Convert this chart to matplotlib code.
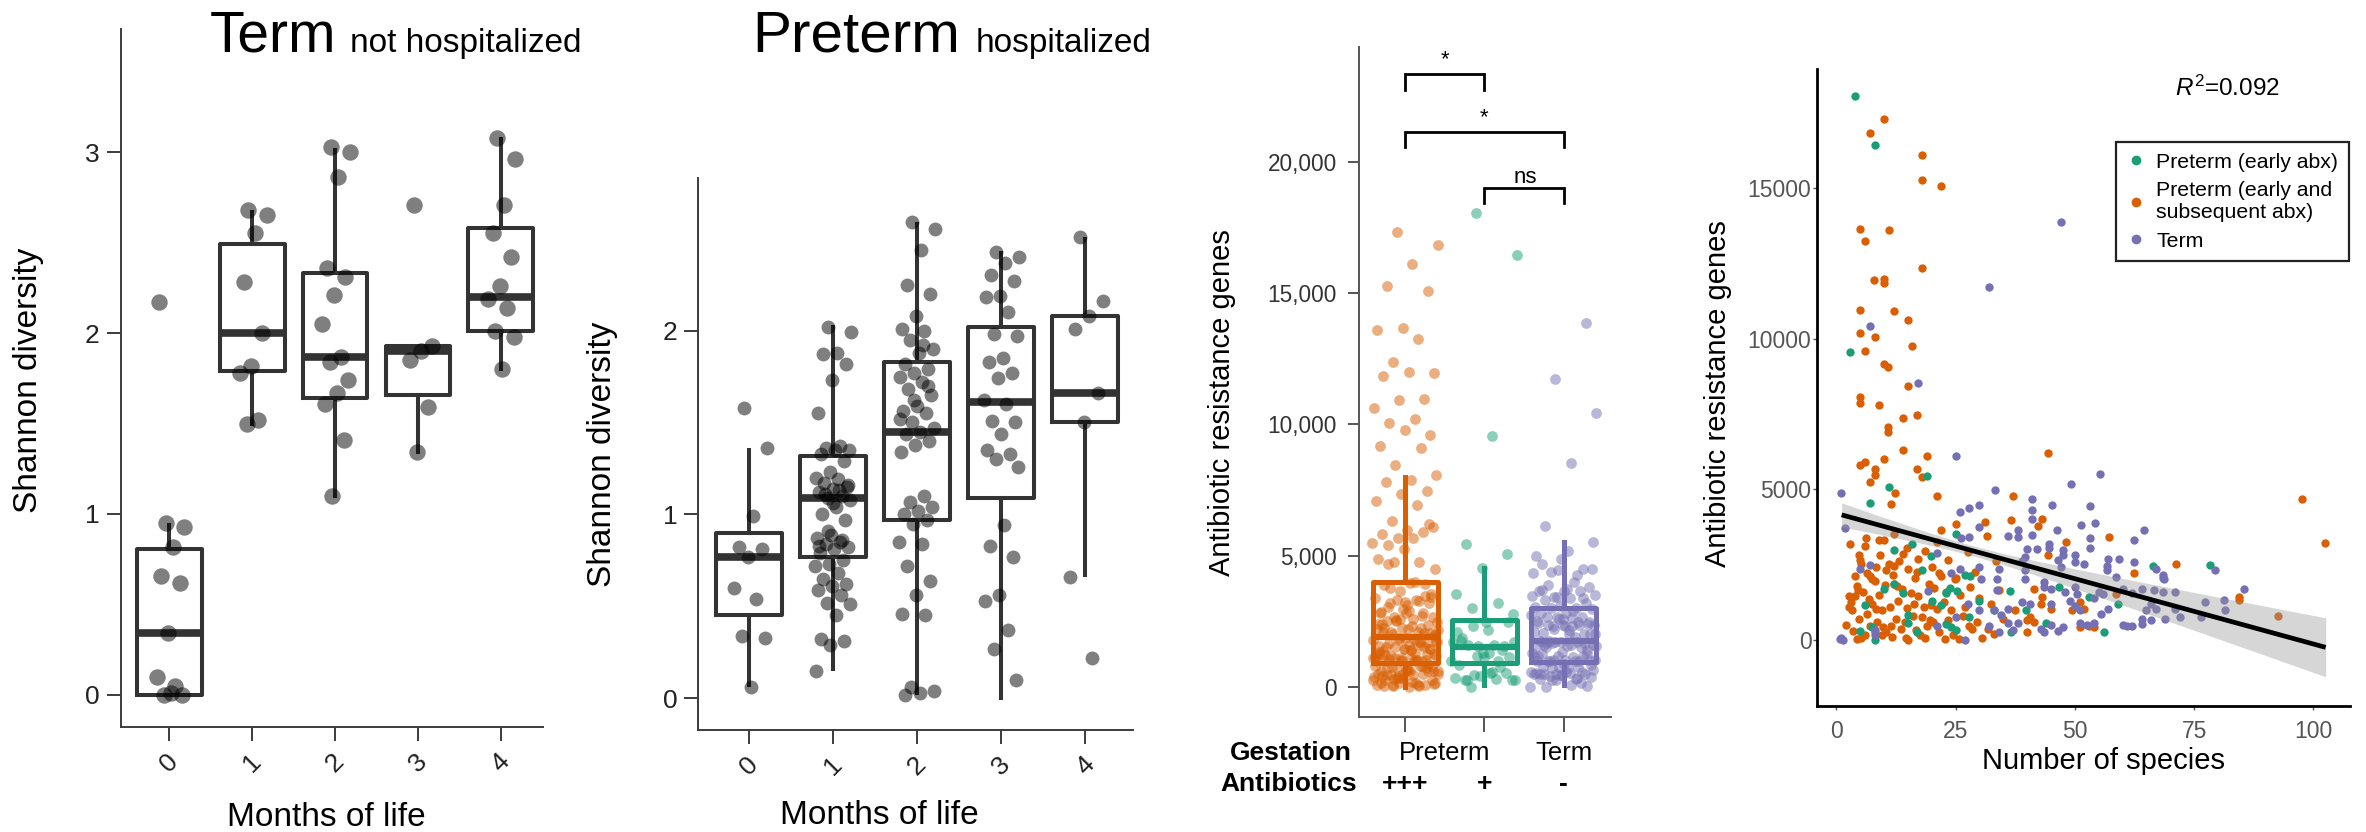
import numpy as np
import matplotlib
matplotlib.use("Agg")
import matplotlib.pyplot as plt
import matplotlib.transforms as mtrans
from matplotlib.lines import Line2D

plt.rcParams['font.family'] = ['Liberation Sans', 'DejaVu Sans']
plt.rcParams['mathtext.fontset'] = 'custom'
plt.rcParams['mathtext.rm'] = 'Liberation Sans'
plt.rcParams['mathtext.it'] = 'Liberation Sans:italic'

# ---------------- Shannon diversity by month: term infants ----------------
months = [0, 1, 2, 3, 4]
month_labels = ['0', '1', '2', '3', '4']

term_m0 = [0.95, 0.93, 0.82, 0.66, 0.62, 0.34, 0.10, 0.05, 0.0, 0.0, 0.01, 2.17]
term_m1 = [2.68, 2.65, 2.55, 2.28, 2.00, 1.82, 1.78, 1.52, 1.50]
term_m2 = [3.03, 3.00, 2.86, 2.36, 2.31, 2.21, 2.05, 1.87, 1.84, 1.74, 1.67, 1.61, 1.41, 1.10]
term_m3 = [2.71, 1.93, 1.90, 1.85, 1.59, 1.34]
term_m4 = [3.08, 2.96, 2.71, 2.55, 2.42, 2.26, 2.19, 2.14, 2.01, 1.98, 1.80]

term_q1 = [0.00, 1.79, 1.64, 1.66, 2.01]
term_med = [0.34, 2.00, 1.87, 1.90, 2.20]
term_q3 = [0.805, 2.49, 2.33, 1.93, 2.58]
term_lo = [0.00, 1.50, 1.10, 1.34, 1.80]
term_hi = [0.94, 2.67, 3.01, 1.93, 3.07]

# ---------------- Shannon diversity by month: preterm infants ----------------
pre_m0 = [1.58, 1.36, 0.99, 0.82, 0.81, 0.77, 0.60, 0.54, 0.34, 0.33, 0.06]
pre_m1 = [2.02, 1.99, 1.88, 1.87, 1.82, 1.73, 1.55, 1.37, 1.36, 1.35, 1.35, 1.33, 1.29,
          1.23, 1.20, 1.19, 1.17, 1.15, 1.14, 1.12, 1.10, 1.09, 1.08, 1.04, 1.00, 0.97,
          0.89, 0.87, 0.85, 0.84, 0.82, 0.81, 0.79, 0.75, 0.73, 0.72, 0.68, 0.65, 0.62,
          0.61, 0.59, 0.56, 0.52, 0.51, 0.45, 0.32, 0.31, 0.29, 0.15, 1.13, 1.11, 1.16,
          1.06, 0.83, 0.86, 0.91]
pre_m2 = [2.59, 2.55, 2.44, 2.25, 2.20, 2.08, 2.01, 2.00, 1.95, 1.90, 1.88, 1.82, 1.79,
          1.77, 1.75, 1.72, 1.68, 1.65, 1.59, 1.56, 1.55, 1.50, 1.47, 1.45, 1.44, 1.40,
          1.38, 1.34, 1.10, 1.07, 1.04, 1.02, 1.00, 0.97, 0.95, 0.85, 0.84, 0.72, 0.64,
          0.56, 0.46, 0.45, 0.06, 0.04, 0.03, 0.02, 1.70, 1.62, 1.52, 1.92]
pre_m3 = [2.43, 2.40, 2.37, 2.30, 2.27, 2.19, 2.18, 2.10, 1.98, 1.97, 1.85, 1.83, 1.77,
          1.74, 1.62, 1.60, 1.51, 1.50, 1.44, 1.35, 1.33, 1.30, 1.26, 0.94, 0.83, 0.77,
          0.56, 0.53, 0.37, 0.27, 0.10]
pre_m4 = [2.51, 2.16, 2.08, 2.01, 1.66, 1.50, 0.66, 0.22]

pre_q1 = [0.45, 0.77, 0.97, 1.09, 1.50]
pre_med = [0.77, 1.09, 1.45, 1.61, 1.66]
pre_q3 = [0.90, 1.32, 1.83, 2.02, 2.08]
pre_lo = [0.07, 0.16, 0.03, 0.00, 0.67]
pre_hi = [1.35, 2.02, 2.58, 2.42, 2.50]

# ---------------- Antibiotic resistance genes (number of species, ARG count) ----------------
green_pts = [
    (3.8, 18060), (8.0, 16460), (2.9, 9570), (19.1, 5430), (11.0, 5060), (7.0, 4540),
    (25.1, 3520), (15.9, 3190), (12.1, 2990), (19.9, 2770), (27.0, 2160), (12.1, 1860),
    (14.0, 1550), (22.9, 1550), (23.9, 1720), (25.3, 1610), (36.3, 1610), (5.9, 1140),
    (22.0, 1140), (15.0, 820), (27.9, 760), (7.4, 430), (8.0, 260), (15.0, 540),
    (17.0, 250), (23.0, 520), (24.0, 420), (25.0, 320), (4.9, 300), (8.0, 0),
    (36.6, 250), (66.3, 2460), (46.7, 1740), (53.0, 1410), (59.0, 1190), (39.8, 970),
    (44.0, 560), (56.2, 250), (78.3, 2470), (20.0, 1300), (28.0, 2100), (33.0, 1000),
    (18.0, 2300), (10.0, 1700), (30.0, 1300)]

orange_pts = [
    (9.9, 17320), (7.0, 16830), (17.9, 16110), (17.9, 15280), (22.0, 15080), (4.9, 13660),
    (11.0, 13610), (5.9, 13240), (17.9, 12360), (7.9, 11970), (9.9, 12000), (9.9, 11850),
    (4.9, 10970), (12.0, 10910), (15.0, 10630), (4.9, 10210), (8.0, 10060), (5.9, 9580),
    (15.9, 9770), (9.9, 9170), (10.9, 9080), (15.0, 8430), (4.9, 8060), (4.9, 7860),
    (8.9, 7800), (17.0, 7470), (14.0, 7360), (10.9, 7080), (10.9, 6910), (14.0, 6300),
    (19.1, 6100), (9.9, 5990), (4.9, 5820), (5.9, 5890), (8.0, 5660), (8.0, 5470),
    (17.0, 5660), (17.9, 5410), (44.3, 6210),
    (7.0, 5240), (12.2, 4880), (21.0, 4770), (37.0, 4770), (11.5, 4500), (36.7, 3970),
    (25.1, 3860), (31.1, 3900), (22.0, 3660), (6.3, 3390), (8.9, 3320), (2.8, 3190),
    (12.0, 3520), (4.7, 2800), (14.0, 2840), (17.1, 2690), (11.0, 2530), (12.0, 2450),
    (10.5, 2300), (5.1, 2520), (15.0, 2360), (17.0, 2240), (6.5, 2200), (7.0, 2100),
    (7.5, 2020), (8.0, 1950), (21.5, 2200), (22.0, 2100), (25.0, 2050), (12.0, 1860),
    (12.8, 1770), (4.3, 1770), (4.6, 1650), (4.0, 1440), (2.6, 1440), (15.7, 1550),
    (20.5, 1720), (26.0, 1500), (7.4, 1190), (2.6, 1080), (3.2, 970), (8.3, 1030),
    (18.4, 1100), (19.8, 1150), (21.0, 1030), (16.2, 1190), (18.0, 760), (19.6, 650),
    (20.3, 600), (24.0, 970), (4.7, 700), (7.0, 470), (9.7, 430), (11.4, 450),
    (14.3, 600), (16.6, 320), (27.9, 470), (22.7, 30), (25.8, 30), (11.6, 100),
    (15.1, 0), (4.3, 20), (5.1, 50), (9.6, 150), (31.8, 370),
    (43.2, 4010), (42.3, 3770), (57.2, 3410), (48.2, 3240), (44.3, 2810), (62.3, 2230),
    (71.3, 2500), (41.5, 1690), (43.2, 1410), (58.7, 1520), (51.0, 1250), (52.0, 1030),
    (43.0, 1190), (45.0, 1030), (40.5, 760), (41.5, 600), (40.0, 650), (51.0, 420),
    (53.0, 470), (54.0, 420), (40.0, 250), (49.5, 970),
    (97.6, 4660), (102.5, 3210), (84.5, 1430), (84.5, 1320), (92.5, 800),
    (3.5, 300), (6.0, 150), (8.5, 600), (10.5, 250), (12.5, 700), (13.5, 350),
    (16.0, 800), (17.5, 150), (19.0, 450), (21.5, 250), (23.5, 650), (24.5, 150),
    (26.5, 800), (28.5, 350), (29.5, 600), (33.0, 200), (35.0, 700), (6.5, 850),
    (2.0, 500), (14.5, 50), (18.5, 50), (30.5, 50),
    (3.0, 1250), (5.5, 1600), (6.8, 1350), (9.0, 1500), (10.2, 1800), (11.2, 1100),
    (13.0, 1300), (14.8, 1050), (17.2, 1450), (19.5, 1850), (22.5, 1250), (23.0, 1600),
    (27.0, 1100), (28.0, 1750), (30.0, 1400), (32.5, 1200), (34.0, 1650), (37.5, 1000),
    (9.5, 1000), (13.8, 1700),
    (3.8, 2100), (5.0, 2650), (6.0, 3100), (8.2, 2400), (9.2, 2800), (10.0, 3300),
    (11.8, 2150), (13.2, 2600), (14.8, 3050), (16.5, 2050), (18.5, 2950), (20.0, 2400),
    (21.0, 3250), (23.5, 2650), (24.8, 2000), (27.5, 2900), (29.0, 2250), (31.5, 3450),
    (33.5, 2600)]

purple_pts = [
    (32.1, 11710), (7.0, 10440), (17.1, 8520), (25.1, 6110), (47.1, 13870),
    (0.9, 4880), (33.2, 4990), (26.0, 4240), (27.9, 4360), (30.0, 4470), (30.0, 3740),
    (1.9, 3700), (26.2, 3390), (27.9, 3420), (36.0, 3440), (21.0, 2880), (4.9, 2360),
    (7.0, 2470), (26.0, 2360), (30.0, 2420), (34.2, 2350), (24.0, 2200), (30.3, 2020),
    (33.6, 2020), (19.2, 1610), (33.6, 1640), (25.1, 760), (27.6, 1190), (30.0, 970),
    (33.0, 970), (34.5, 820), (36.0, 1030), (8.0, 310), (8.0, 150), (21.0, 470),
    (27.0, 0), (0.9, 60), (1.3, 0), (0.7, 30), (32.0, 440), (36.0, 540), (37.0, 330),
    (34.0, 250),
    (55.3, 5520), (49.2, 5190), (41.1, 4660), (45.2, 4470), (53.2, 4430), (41.1, 4320),
    (41.1, 4010), (54.2, 3880), (51.2, 3800), (46.2, 3660), (64.4, 3660), (38.0, 3630),
    (38.0, 3410), (41.1, 3490), (53.2, 3390), (62.3, 3300), (44.5, 3190), (44.5, 3060),
    (53.2, 3030), (40.0, 3010), (42.0, 3010), (47.5, 2970), (47.5, 2810), (50.0, 2810),
    (57.0, 2670), (59.3, 2670), (39.5, 2750), (39.0, 2630), (46.5, 2640), (47.0, 2400),
    (50.0, 2570), (52.0, 2520), (56.7, 2460), (56.7, 2300), (67.0, 2340), (68.5, 2150),
    (68.5, 2050), (68.8, 2000), (62.3, 2570), (58.7, 2070), (43.5, 1900), (43.5, 1760),
    (39.5, 2010), (39.5, 2300), (50.0, 1740), (50.5, 1520), (45.0, 1690), (48.0, 1570),
    (55.0, 1600), (56.0, 1520), (54.0, 1400), (60.0, 1700), (62.0, 1550), (64.0, 1700),
    (66.5, 1650), (68.5, 1600), (71.0, 1570), (39.0, 1250), (40.5, 1190), (45.0, 1190),
    (49.0, 1300), (50.0, 1130), (51.0, 970), (57.0, 1030), (55.5, 860), (66.0, 1190),
    (65.0, 1000), (67.0, 1030), (71.0, 1030), (64.0, 520), (61.0, 470), (60.0, 500),
    (62.0, 450), (45.0, 500), (46.5, 300), (47.5, 420), (43.0, 360), (51.0, 550),
    (52.5, 480), (54.0, 550), (43.6, 250), (38.0, 550),
    (79.4, 2300), (85.5, 1670), (77.3, 1240), (81.3, 1320), (81.5, 970), (76.4, 740),
    (64.0, 700), (66.0, 650), (69.0, 700), (72.0, 750)]

# box summaries, in the order Preterm +++ / Preterm + / Term
arg_q1 = [900, 910, 950]
arg_med = [1900, 1500, 1750]
arg_q3 = [4000, 2550, 3000]
arg_lo = [0, 80, 80]
arg_hi = [7980, 4520, 5520]

gestation_labels = ['Preterm', 'Term']
antibiotic_labels = ['+++', '+', '-']
group_names = ['Preterm (early abx)', 'Preterm (early and\nsubsequent abx)', 'Term']

# linear fit of ARG count on number of species
fit_intercept = 4196.0
fit_slope = -43.4
fit_r2 = 0.092
band_min_halfwidth = 170.0
band_center = 28.7
band_growth = 13.07

# ---------------- figure ----------------
W, H = 2366, 832
fig = plt.figure(figsize=(W / 100, H / 100), dpi=100)


def rect(x0, y0, x1, y1):
    return [x0 / W, 1 - y1 / H, (x1 - x0) / W, (y1 - y0) / H]


def fpos(x, y):
    return x / W, 1 - y / H


def spread(n, half):
    k = np.arange(n)
    return (((k * 0.6180339887 + 0.37) % 1.0) - 0.5) * 2 * half


def stats_list(q1, med, q3, lo, hi):
    return [dict(q1=a, med=b, q3=c, whislo=d, whishi=e, fliers=[])
            for a, b, c, d, e in zip(q1, med, q3, lo, hi)]


BOX = '#333333'
AXC = '#3c3c3c'


def shannon_panel(r, points, q1, med, q3, lo, hi, xlim, ylim, yticks, psize, jit):
    ax = fig.add_axes(r)
    ax.bxp(stats_list(q1, med, q3, lo, hi), positions=months, widths=0.78,
           showfliers=False, showcaps=False, manage_ticks=False,
           boxprops=dict(color=BOX, linewidth=2.9),
           whiskerprops=dict(color=BOX, linewidth=2.9),
           medianprops=dict(color=BOX, linewidth=5.5, solid_capstyle='butt'))
    for m, vals in zip(months, points):
        ax.scatter(m + spread(len(vals), jit), vals, s=psize, color='black',
                   alpha=0.5, linewidths=0, zorder=3)
    ax.set_xlim(*xlim)
    ax.set_ylim(*ylim)
    for s in ['top', 'right']:
        ax.spines[s].set_visible(False)
    for s in ['left', 'bottom']:
        ax.spines[s].set_color(AXC)
        ax.spines[s].set_linewidth(1.4)
    ax.set_yticks(yticks)
    ax.set_yticklabels([str(t) for t in yticks])
    ax.set_xticks(months)
    ax.set_xticklabels(month_labels, rotation=45, ha='center')
    ax.tick_params(axis='both', length=10, width=1.4, color=AXC,
                   labelsize=19, labelcolor='#222222')
    ax.tick_params(axis='y', pad=5)
    ax.tick_params(axis='x', pad=6)
    return ax


ax1 = shannon_panel(rect(120.5, 29, 543, 727),
                    [term_m0, term_m1, term_m2, term_m3, term_m4],
                    term_q1, term_med, term_q3, term_lo, term_hi,
                    (-0.59, 4.51), (-0.177, 3.68), [0, 1, 2, 3], 140, 0.18)
ax2 = shannon_panel(rect(698, 178, 1133, 730),
                    [pre_m0, pre_m1, pre_m2, pre_m3, pre_m4],
                    pre_q1, pre_med, pre_q3, pre_lo, pre_hi,
                    (-0.61, 4.57), (-0.173, 2.83), [0, 1, 2], 100, 0.22)

fig.text(*fpos(29, 380), 'Shannon diversity', rotation=90, ha='center', va='center', fontsize=24)
fig.text(*fpos(326, 817), 'Months of life', ha='center', va='center', fontsize=24)
fig.text(*fpos(210, 52), 'Term', ha='left', va='baseline', fontsize=41)
fig.text(*fpos(350, 52), 'not hospitalized', ha='left', va='baseline', fontsize=24)

fig.text(*fpos(603, 454), 'Shannon diversity', rotation=90, ha='center', va='center', fontsize=24)
fig.text(*fpos(879, 815), 'Months of life', ha='center', va='center', fontsize=24)
fig.text(*fpos(752, 52), 'Preterm', ha='left', va='baseline', fontsize=42)
fig.text(*fpos(976, 52), 'hospitalized', ha='left', va='baseline', fontsize=24)

# ---------------- ARG box/jitter panel ----------------
colors = ['#D95F02', '#1B9E77', '#7570B3']
groups_pts = [orange_pts, green_pts, purple_pts]

ax3 = fig.add_axes(rect(1359, 46.7, 1611, 717))
for i, (pts, c) in enumerate(zip(groups_pts, colors)):
    vals = np.array([p[1] for p in pts], dtype=float)
    ax3.scatter(i + spread(len(vals), 0.42), vals, s=60, color=c, alpha=0.5,
                linewidths=0, zorder=2)
    ax3.bxp(stats_list([arg_q1[i]], [arg_med[i]], [arg_q3[i]], [arg_lo[i]], [arg_hi[i]]),
            positions=[i], widths=0.82, showfliers=False, showcaps=False, manage_ticks=False,
            boxprops=dict(color=c, linewidth=3.6),
            whiskerprops=dict(color=c, linewidth=3.6),
            medianprops=dict(color=c, linewidth=4.5, solid_capstyle='butt'),
            zorder=3)
ax3.set_xlim(-0.587, 2.6)
ax3.set_ylim(-1151, 24384)
for s in ['top', 'right']:
    ax3.spines[s].set_visible(False)
for s in ['left', 'bottom']:
    ax3.spines[s].set_color('#555555')
    ax3.spines[s].set_linewidth(1.4)
yt3 = [0, 5000, 10000, 15000, 20000]
ax3.set_yticks(yt3)
ax3.set_yticklabels([f'{v:,}' for v in yt3])
ax3.set_xticks([0, 1, 2])
ax3.set_xticklabels([])
ax3.tick_params(axis='y', length=8, width=1.4, color='#555555', labelsize=16.3,
                labelcolor='#333333', pad=8)
ax3.tick_params(axis='x', length=11, width=1.4, color='#555555')

# significance brackets
brackets = [(0, 1, 23330, 22730, '*', 0.5, 23686),
            (0, 2, 21150, 20545, '*', 1.0, 21477),
            (1, 2, 18990, 18420, 'ns', 1.52, 19193)]
for xa, xb, ytop, yleg, lab, xl, yl in brackets:
    ax3.plot([xa, xa, xb, xb], [yleg, ytop, ytop, yleg], color='black', lw=2.0,
             solid_joinstyle='miter', clip_on=False)
    ax3.text(xl, yl, lab, ha='center', va='baseline', fontsize=16)

btr = mtrans.blended_transform_factory(ax3.transData, fig.transFigure)
fig.text(*fpos(1352, 753), 'Gestation', ha='right', va='center', fontsize=19, fontweight='bold')
fig.text(*fpos(1357, 784), 'Antibiotics', ha='right', va='center', fontsize=19, fontweight='bold')
ax3.text(0.5, 1 - 753 / H, gestation_labels[0], transform=btr, ha='center', va='center', fontsize=18.5)
ax3.text(2.0, 1 - 753 / H, gestation_labels[1], transform=btr, ha='center', va='center', fontsize=18.5)
for i, lab in enumerate(antibiotic_labels):
    ax3.text(i, 1 - 784 / H, lab, transform=btr, ha='center', va='center', fontsize=19,
             fontweight='bold')
fig.text(*fpos(1221.5, 403), 'Antibiotic resistance genes', rotation=90, ha='center',
         va='center', fontsize=21)

# ---------------- ARG vs number of species ----------------
ax4 = fig.add_axes(rect(1817, 69, 2350, 706))
for i in [0, 1, 2]:
    pts = np.array(groups_pts[i], dtype=float)
    ax4.scatter(pts[:, 0], pts[:, 1], s=36, color=colors[i], linewidths=0, zorder=2)

xs = np.linspace(1.1, 102.6, 200)
fit = fit_intercept + fit_slope * xs
hw = np.sqrt(band_min_halfwidth ** 2 + (band_growth * (xs - band_center)) ** 2)
ax4.fill_between(xs, fit - hw, fit + hw, color='#999999', alpha=0.4, linewidth=0, zorder=3)
ax4.plot(xs, fit, color='black', lw=3.4, zorder=4, solid_capstyle='butt')

ax4.set_xlim(-4.07, 107.7)
ax4.set_ylim(-2206, 18970)
for s in ['top', 'right']:
    ax4.spines[s].set_visible(False)
for s in ['left', 'bottom']:
    ax4.spines[s].set_color('black')
    ax4.spines[s].set_linewidth(2.0)
ax4.set_xticks([0, 25, 50, 75, 100])
ax4.set_yticks([0, 5000, 10000, 15000])
ax4.tick_params(axis='both', length=3, width=1.0, color='#555555', labelsize=16.5,
                labelcolor='#555555')
ax4.tick_params(axis='y', pad=1)
ax4.tick_params(axis='x', pad=7)

handles = [Line2D([], [], marker='o', linestyle='', markersize=7, markeredgewidth=0,
                  color=colors[k]) for k in (1, 0, 2)]
leg = ax4.legend(handles, group_names, loc='upper left',
                 bbox_to_anchor=fpos(2116, 142), bbox_transform=fig.transFigure,
                 borderaxespad=0, fontsize=15.3, frameon=True, fancybox=False,
                 framealpha=1, edgecolor='#222222', handlelength=0.9, handletextpad=0.5,
                 labelspacing=0.45, borderpad=0.5)
leg.get_frame().set_linewidth(1.6)

fig.text(*fpos(2175, 88), rf'$R^2$=0.{int(round(fit_r2 * 1000)):03d}', ha='left',
         va='center', fontsize=17.5)
fig.text(*fpos(1718, 394), 'Antibiotic resistance genes', rotation=90, ha='center',
         va='center', fontsize=21)
fig.text(*fpos(2104, 761), 'Number of species', ha='center', va='center', fontsize=21)

fig.savefig('out.png', dpi=100, facecolor='white')
